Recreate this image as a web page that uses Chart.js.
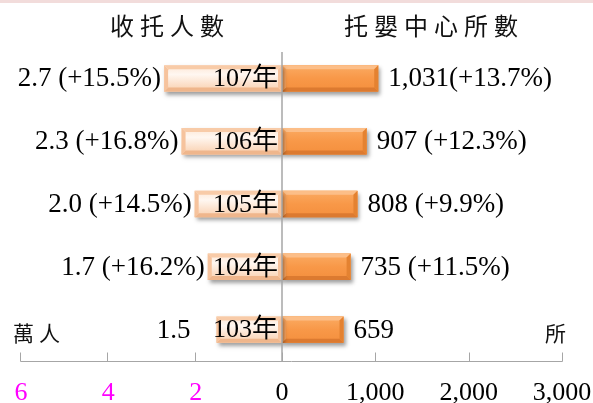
<!DOCTYPE html>
<html>
<head>
<meta charset="utf-8">
<script src="https://cdn.jsdelivr.net/npm/chart.js@4.4.0/dist/chart.umd.min.js"></script>
<style>
  html, body { margin: 0; padding: 0; background: #fff; }
  #wrap { width: 593px; height: 403px; }
</style>
</head>
<body>
<div id="wrap"><canvas id="chart" width="593" height="403"></canvas></div>
<script>
// rows from top to bottom
const years = ["107年", "106年", "105年", "104年", "103年"];
const children = [2.7, 2.3, 2.0, 1.7, 1.5];            // 收托人數 (萬人)
const childrenLabels = ["2.7 (+15.5%)", "2.3 (+16.8%)", "2.0 (+14.5%)", "1.7 (+16.2%)", "1.5"];
const centers = [1031, 907, 808, 735, 659];           // 托嬰中心所數 (所)
const centerLabels = ["1,031(+13.7%)", "907 (+12.3%)", "808 (+9.9%)", "735 (+11.5%)", "659"];
const leftTicks = [6, 4, 2];
const rightTicks = [0, 1000, 2000, 3000];
const rightTickLabels = ["0", "1,000", "2,000", "3,000"];

const SERIF = '"Liberation Serif", "Noto Sans CJK TC", serif';
const CJK = '"Noto Sans CJK TC", sans-serif';
const AXIS_GRAY = "#a6a6a6";

const STYLES = [
  { // peach (收托人數)
    face: [[0, "#fde6d4"], [0.35, "#fff7f1"], [1, "#f9ceac"]],
    top: "#f8cba8", bottom: "#efb68c", left: "#f6c39d", right: "#f6c39d",
  },
  { // orange (托嬰中心所數)
    face: [[0, "#fbab63"], [0.5, "#f89848"], [1, "#f48f3d"]],
    top: "#fcbe88", bottom: "#dc7a30", left: "#f9a35c", right: "#e48231",
  },
];

function poly(ctx, pts, color) {
  ctx.beginPath();
  ctx.moveTo(pts[0][0], pts[0][1]);
  pts.slice(1).forEach((p) => ctx.lineTo(p[0], p[1]));
  ctx.closePath();
  ctx.fillStyle = color;
  ctx.fill();
}

function bevelBar(ctx, l, t, r, b, st, bv) {
  const g = ctx.createLinearGradient(0, t, 0, b);
  st.face.forEach(([s, c]) => g.addColorStop(s, c));
  ctx.fillStyle = g;
  ctx.fillRect(l, t, r - l, b - t);
  poly(ctx, [[l, t], [r, t], [r - bv, t + bv], [l + bv, t + bv]], st.top);
  poly(ctx, [[l, b], [r, b], [r - bv, b - bv], [l + bv, b - bv]], st.bottom);
  poly(ctx, [[l, t], [l + bv, t + bv], [l + bv, b - bv], [l, b]], st.left);
  poly(ctx, [[r, t], [r - bv, t + bv], [r - bv, b - bv], [r, b]], st.right);
}

const butterflyPlugin = {
  id: "butterfly",
  beforeDraw(chart) {
    const ctx = chart.ctx;
    ctx.save();
    ctx.fillStyle = "#f2dcdb";
    ctx.fillRect(0, 0, chart.width, 3);
    ctx.restore();
  },
  beforeDatasetDraw(chart) {
    const ctx = chart.ctx;
    ctx.save();
    ctx.shadowColor = "rgba(0,0,0,0.38)";
    ctx.shadowBlur = 4;
    ctx.shadowOffsetX = 2;
    ctx.shadowOffsetY = 3;
  },
  afterDatasetDraw(chart, args) {
    const ctx = chart.ctx;
    ctx.restore();
    const st = STYLES[args.index];
    args.meta.data.forEach((el) => {
      const p = el.getProps(["x", "y", "base", "height"], true);
      const l = Math.min(p.x, p.base), r = Math.max(p.x, p.base);
      const t = p.y - p.height / 2, b = p.y + p.height / 2;
      bevelBar(ctx, l, t, r, b, st, 4);
    });
  },
  afterDraw(chart) {
    const ctx = chart.ctx;
    const xL = chart.scales.xL, xR = chart.scales.xR, y = chart.scales.y;
    const area = chart.chartArea;
    const x0 = xL.getPixelForValue(0);
    const axisY = Math.round(area.bottom) + 0.5;

    ctx.save();
    // centre line
    ctx.strokeStyle = AXIS_GRAY;
    ctx.lineWidth = 1.5;
    ctx.beginPath();
    ctx.moveTo(x0, 52);
    ctx.lineTo(x0, axisY);
    ctx.stroke();

    // bottom axis with upward ticks
    ctx.lineWidth = 1;
    ctx.beginPath();
    ctx.moveTo(Math.round(xL.getPixelForValue(-leftTicks[0])) + 0.5, axisY);
    ctx.lineTo(Math.round(xR.getPixelForValue(rightTicks[rightTicks.length - 1])) + 0.5, axisY);
    leftTicks.forEach((v) => {
      const px = Math.round(xL.getPixelForValue(-v)) + 0.5;
      ctx.moveTo(px, axisY);
      ctx.lineTo(px, axisY - 9);
    });
    rightTicks.forEach((v) => {
      const px = Math.round(xR.getPixelForValue(v)) + 0.5;
      ctx.moveTo(px, axisY);
      ctx.lineTo(px, axisY - 9);
    });
    ctx.stroke();

    // tick labels
    ctx.font = "26px " + SERIF;
    ctx.textAlign = "center";
    ctx.textBaseline = "middle";
    ctx.fillStyle = "#ff00ff";
    leftTicks.forEach((v) => ctx.fillText(String(v), xL.getPixelForValue(-v) + 1, axisY + 32));
    ctx.fillStyle = "#000";
    rightTicks.forEach((v, i) => ctx.fillText(rightTickLabels[i], xR.getPixelForValue(v), axisY + 32));

    // value labels and year labels
    years.forEach((yr, i) => {
      const cy = y.getPixelForValue(i) + 1;
      ctx.font = "27px " + SERIF;
      ctx.textAlign = "right";
      const gap = childrenLabels[i].indexOf("(") < 0 ? 26 : 3;
      ctx.fillText(childrenLabels[i], xL.getPixelForValue(-children[i]) - gap, cy);
      ctx.font = "26px " + SERIF;
      ctx.fillText(yr, x0 - 4, cy);
      ctx.font = "27px " + SERIF;
      ctx.textAlign = "left";
      ctx.fillText(centerLabels[i], xR.getPixelForValue(centers[i]) + 10, cy);
    });

    // titles and units
    ctx.font = "24px " + CJK;
    ctx.textAlign = "left";
    ctx.letterSpacing = "6px";
    ctx.fillStyle = "#111";
    ctx.fillText("收托人數", 110, 26);
    ctx.fillText("托嬰中心所數", 344, 26);
    ctx.font = "21px " + CJK;
    ctx.letterSpacing = "5px";
    ctx.fillText("萬人", 13, 333);
    ctx.letterSpacing = "0px";
    ctx.fillText("所", 545, 333);
    ctx.restore();
  },
};

new Chart(document.getElementById("chart"), {
  type: "bar",
  data: {
    labels: years,
    datasets: [
      {
        label: "收托人數",
        data: children.map((v) => -v),
        xAxisID: "xL",
        backgroundColor: "#fbd4b4",
        grouped: false,
        barPercentage: 0.42,
        categoryPercentage: 1,
      },
      {
        label: "托嬰中心所數",
        data: centers,
        xAxisID: "xR",
        backgroundColor: "#f79646",
        grouped: false,
        barPercentage: 0.42,
        categoryPercentage: 1,
      },
    ],
  },
  options: {
    indexAxis: "y",
    responsive: false,
    animation: false,
    layout: { padding: { left: 20, right: 31, top: 47, bottom: 42 } },
    plugins: { legend: { display: false }, tooltip: { enabled: false } },
    scales: {
      // same pixel origin for both: 0 sits on the centre line
      xL: { type: "linear", display: false, min: -6, max: 6.412 },
      xR: { type: "linear", display: false, min: -2807, max: 3000 },
      y: { type: "category", display: false, offset: true },
    },
  },
  plugins: [butterflyPlugin],
});
</script>
</body>
</html>
